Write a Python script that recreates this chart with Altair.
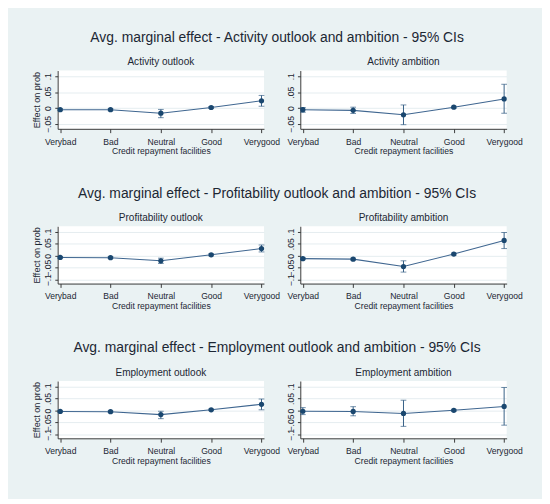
import altair as alt
import pandas as pd

categories = ["Verybad", "Bad", "Neutral", "Good", "Verygood"]

act_out_est = [-0.005, -0.005, -0.016, 0.002, 0.023]
act_out_lo = [-0.008, -0.008, -0.030, -0.001, 0.006]
act_out_hi = [-0.002, -0.002, -0.004, 0.005, 0.040]

act_amb_est = [-0.005, -0.007, -0.021, 0.003, 0.029]
act_amb_lo = [-0.013, -0.017, -0.052, 0.000, -0.016]
act_amb_hi = [0.002, 0.003, 0.010, 0.006, 0.075]

prof_out_est = [-0.007, -0.008, -0.021, 0.004, 0.030]
prof_out_lo = [-0.010, -0.011, -0.032, 0.000, 0.016]
prof_out_hi = [-0.003, -0.004, -0.010, 0.008, 0.045]

prof_amb_est = [-0.012, -0.014, -0.045, 0.007, 0.064]
prof_amb_lo = [-0.016, -0.018, -0.068, 0.003, 0.030]
prof_amb_hi = [-0.008, -0.010, -0.021, 0.011, 0.097]

emp_out_est = [-0.004, -0.005, -0.017, 0.003, 0.026]
emp_out_lo = [-0.007, -0.008, -0.034, 0.000, 0.003]
emp_out_hi = [-0.001, -0.002, -0.003, 0.006, 0.048]

emp_amb_est = [-0.003, -0.004, -0.012, 0.001, 0.017]
emp_amb_lo = [-0.017, -0.022, -0.066, -0.003, -0.061]
emp_amb_hi = [0.012, 0.016, 0.043, 0.005, 0.096]

row_titles = [
    "Avg. marginal effect - Activity outlook and ambition - 95% CIs",
    "Avg. marginal effect - Profitability outlook and ambition - 95% CIs",
    "Avg. marginal effect - Employment outlook and ambition - 95% CIs",
]
panel_titles = [
    ("Activity outlook", "Activity ambition"),
    ("Profitability outlook", "Profitability ambition"),
    ("Employment outlook", "Employment ambition"),
]
row1_ticks = [-0.05, 0, 0.05, 0.1]
row23_ticks = [-0.1, -0.05, 0, 0.05, 0.1]

FONT = "Liberation Sans, Arial, sans-serif"
NAVY = "#1a476f"
TXT = "#1c2733"
LABEL_EXPR = "replace(format(datum.value, '.2~f'), '0.', '.')"


def panel(title, est, lo, hi, domain, ticks, left, height):
    df = pd.DataFrame({"cat": categories, "est": est, "lo": lo, "hi": hi})
    xenc = alt.X(
        "cat:N",
        sort=categories,
        scale=alt.Scale(type="point", padding=0.05),
        axis=alt.Axis(
            title="Credit repayment facilities",
            labelAngle=0,
            labelFontSize=9,
            titleFontSize=9,
            labelPadding=5,
            titlePadding=1,
            tickSize=4,
            titleFontWeight="normal",
            domainColor="#333333",
            tickColor="#333333",
            labelColor=TXT,
            titleColor=TXT,
            labelFont=FONT,
            titleFont=FONT,
        ),
    )
    yaxis = alt.Axis(
        values=ticks,
        labelExpr=LABEL_EXPR,
        labelAngle=270,
        labelAlign="center",
        labelBaseline="bottom",
        labelFontSize=9,
        labelPadding=2,
        labelOverlap=False,
        labelFlush=False,
        tickSize=3,
        grid=True,
        gridColor="#e4ecef",
        domainColor="#333333",
        tickColor="#333333",
        labelColor=TXT,
        labelFont=FONT,
        title="Effect on prob" if left else "",
        titleFontSize=9.5,
        titleFontWeight="normal",
        titleColor=TXT,
        titleFont=FONT,
        titlePadding=3,
    )
    yscale = alt.Scale(domain=domain, nice=False, zero=False)

    def Y(field):
        return alt.Y(field, type="quantitative", scale=yscale, axis=yaxis)

    base = alt.Chart(df).encode(x=xenc)
    line = base.mark_line(color="#3f6690", strokeWidth=1.1).encode(y=Y("est"))
    rule = base.mark_rule(color="#2f5a82", strokeWidth=1).encode(y=Y("lo"), y2="hi:Q")
    cap_lo = base.mark_tick(color="#2f5a82", size=6, thickness=1, orient="horizontal").encode(
        y=Y("lo")
    )
    cap_hi = base.mark_tick(color="#2f5a82", size=6, thickness=1, orient="horizontal").encode(
        y=Y("hi")
    )
    pts = base.mark_point(filled=True, color=NAVY, size=30, opacity=1).encode(y=Y("est"))
    return alt.layer(line, rule, cap_lo, cap_hi, pts).properties(
        width=216,
        height=height,
        title=alt.TitleParams(
            text=title, fontSize=10.5, fontWeight="normal", color=TXT, font=FONT, offset=3
        ),
    )


data = [
    [(act_out_est, act_out_lo, act_out_hi), (act_amb_est, act_amb_lo, act_amb_hi)],
    [(prof_out_est, prof_out_lo, prof_out_hi), (prof_amb_est, prof_amb_lo, prof_amb_hi)],
    [(emp_out_est, emp_out_lo, emp_out_hi), (emp_amb_est, emp_amb_lo, emp_amb_hi)],
]
domains = [[-0.065, 0.118], [-0.116, 0.123], [-0.116, 0.123]]
tick_sets = [row1_ticks, row23_ticks, row23_ticks]
heights = [61, 60, 60]

rows = []
for i in range(3):
    l = panel(panel_titles[i][0], *data[i][0], domains[i], tick_sets[i], True, heights[i])
    r = panel(panel_titles[i][1], *data[i][1], domains[i], tick_sets[i], False, heights[i])
    rows.append(
        alt.hconcat(l, r, spacing=38, bounds="flush").properties(
            title=alt.TitleParams(
                text=row_titles[i],
                fontSize=14.5,
                fontWeight="normal",
                color=TXT,
                font=FONT,
                anchor="middle",
                offset=13,
            )
        )
    )

chart = (
    alt.vconcat(*rows, spacing=32)
    .properties(
        background="#eaf2f3",
        padding={"left": 24, "top": 12, "right": 20, "bottom": 24},
    )
    .configure_view(fill="white", strokeWidth=0)
    .configure_axisY(labelOverlap=False)
)

chart.save("out.html", embed_options={"renderer": "svg", "actions": False})
